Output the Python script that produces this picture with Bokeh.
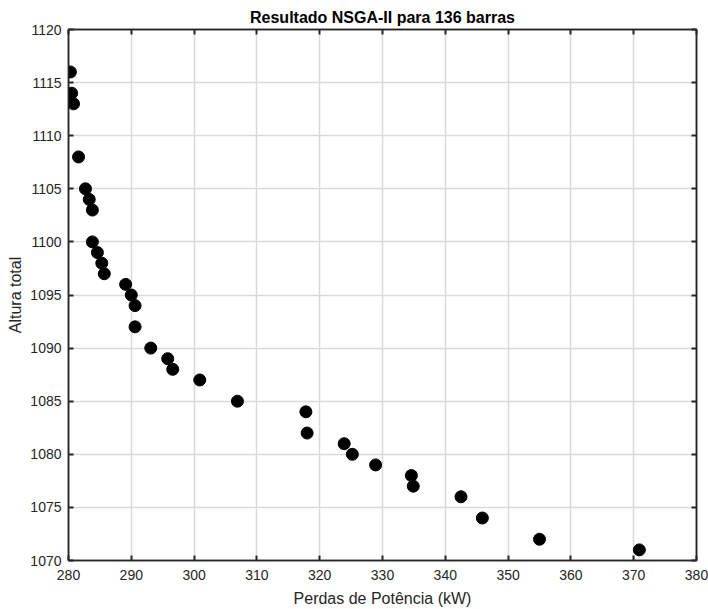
from bokeh.plotting import figure
from bokeh.models import LinearAxis, Range1d, FixedTicker, ColumnDataSource
from bokeh.embed import file_html
from bokeh.resources import INLINE

perdas = [280.3, 280.5, 280.8, 281.6, 282.7, 283.3, 283.8, 283.8, 284.6, 285.3, 285.7,
          289.1, 290.0, 290.6, 290.6, 293.1, 295.8, 296.6, 300.9, 306.9, 317.8, 318.0,
          323.9, 325.2, 328.9, 334.6, 334.9, 342.5, 345.9, 355.0, 370.9]
altura = [1116, 1114, 1113, 1108, 1105, 1104, 1103, 1100, 1099, 1098, 1097,
          1096, 1095, 1094, 1092, 1090, 1089, 1088, 1087, 1085, 1084, 1082,
          1081, 1080, 1079, 1078, 1077, 1076, 1074, 1072, 1071]
x_ticks = [280, 290, 300, 310, 320, 330, 340, 350, 360, 370, 380]
y_ticks = [1070, 1075, 1080, 1085, 1090, 1095, 1100, 1105, 1110, 1115, 1120]

FONT = "Liberation Sans"
TXT = "#262626"

p = figure(width=708, height=609, output_backend="svg", toolbar_location=None,
           x_range=Range1d(280, 380), y_range=Range1d(1070, 1120),
           title="Resultado NSGA-II para 136 barras",
           min_border_left=68, min_border_right=12, min_border_top=29, min_border_bottom=49)
p.title.align = "center"
p.title.text_font = FONT
p.title.text_font_size = "16px"
p.title.text_font_style = "bold"
p.title.text_color = "black"
p.title.offset = 0
p.title.standoff = 8

p.outline_line_color = TXT
p.outline_line_width = 1.5
p.background_fill_color = "white"
p.border_fill_color = "white"

for ax, lab in ((p.xaxis[0], "Perdas de Potência (kW)"), (p.yaxis[0], "Altura total")):
    ax.axis_label = lab
    ax.axis_label_text_font = FONT
    ax.axis_label_text_font_size = "16px"
    ax.axis_label_text_font_style = "normal"
    ax.axis_label_text_color = TXT
    ax.major_label_text_font = FONT
    ax.major_label_text_font_size = "14px"
    ax.major_label_text_color = TXT
    ax.axis_line_color = TXT
    ax.axis_line_width = 1.5
    ax.major_tick_in = 5
    ax.major_tick_out = 0
    ax.major_tick_line_color = TXT
    ax.major_tick_line_width = 2
    ax.minor_tick_line_color = None
p.xaxis[0].ticker = FixedTicker(ticks=x_ticks)
p.yaxis[0].ticker = FixedTicker(ticks=y_ticks)
p.xaxis[0].major_label_standoff = 9
p.yaxis[0].major_label_standoff = 7
p.xaxis[0].axis_label_standoff = 7
p.yaxis[0].axis_label_standoff = 3

for loc, ticks in (("above", x_ticks), ("right", y_ticks)):
    ax = LinearAxis(ticker=FixedTicker(ticks=ticks))
    ax.major_label_overrides = {t: "" for t in ticks}
    ax.major_label_standoff = 0
    ax.major_label_text_font_size = "13px"
    ax.axis_line_color = TXT
    ax.axis_line_width = 1.5
    ax.major_tick_in = 5
    ax.major_tick_out = 0
    ax.major_tick_line_color = TXT
    ax.major_tick_line_width = 2
    ax.minor_tick_line_color = None
    p.add_layout(ax, loc)

p.xgrid.ticker = FixedTicker(ticks=x_ticks)
p.ygrid.ticker = FixedTicker(ticks=y_ticks)
for g in (p.xgrid[0], p.ygrid[0]):
    g.grid_line_color = "#d9d9d9"
    g.grid_line_width = 1.5

src = ColumnDataSource(dict(x=perdas, y=altura))
p.scatter("x", "y", source=src, size=12, fill_color="black", line_color="black")

open("out.html", "w").write(file_html(p, INLINE))
